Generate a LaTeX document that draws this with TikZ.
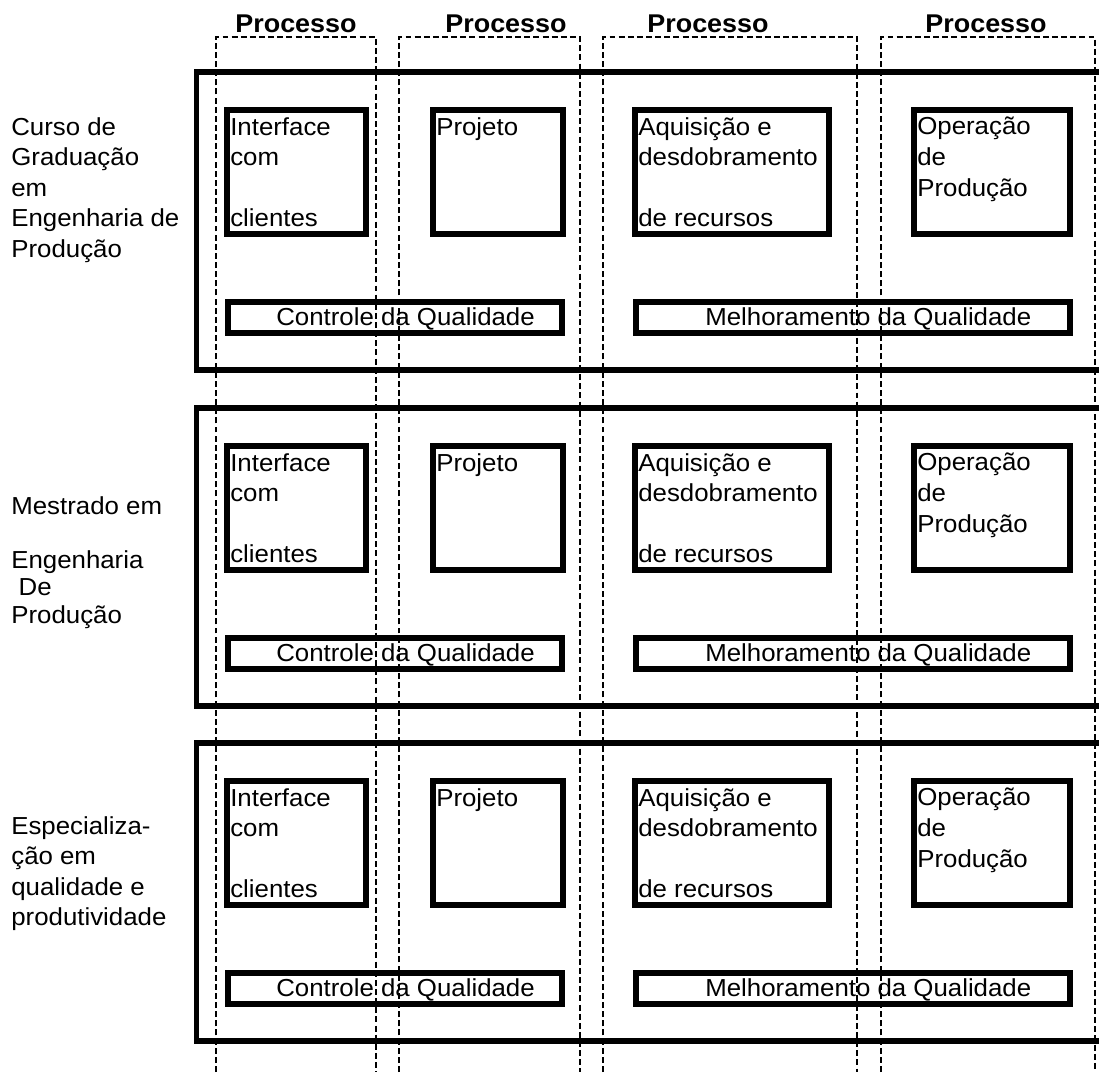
\documentclass[tikz,border=0pt]{standalone}
\usepackage{fontspec}
\setmainfont{Liberation Sans}[FakeStretch=1.05]
\usetikzlibrary{positioning,calc}

\tikzset{
  frame/.style={line width=3.2pt},
  colline/.style={line width=1.5pt, dash pattern=on 3.4pt off 1.8pt},
  procbox/.style={draw, line width=3.2pt, inner sep=0pt},
  boxtext/.style={anchor=north west, inner sep=0pt, align=left, font=\fontsize{14}{17.4}\selectfont},
  linetext/.style={anchor=west, inner sep=0pt, font=\fontsize{14}{17.4}\selectfont},
  head/.style={anchor=base, inner sep=0pt, font=\fontsize{14.6}{16}\selectfont\bfseries},
}

\begin{document}
\begin{tikzpicture}[x=0.02cm, y=-0.02cm]
\useasboundingbox (0,0) rectangle (1099,1072);

% process columns
\foreach \a/\b in {216/376, 399/580, 603/857, 881/1095}
  \draw[colline] (\a,1072) -- (\a,37) -- (\b,37) -- (\b,1072);
\node[head] (proc1) at (296,32) {Processo};
\node[head] (proc2) at (506,32) {Processo};
\node[head] (proc3) at (708,32) {Processo};
\node[head] (proc4) at (986,32) {Processo};

% one frame per course
\foreach \r/\t in {1/0, 2/336, 3/671} {
  \draw[frame] (1099,72+\t) -- (196.5,72+\t) -- (196.5,370+\t) -- (1099,370+\t);
  \node[procbox, minimum width=2.79cm, minimum height=2.49cm] (iface\r) at (296.5,172+\t) {};
  \node[procbox, minimum width=2.61cm, minimum height=2.49cm] (proj\r) at (498,172+\t) {};
  \node[procbox, minimum width=3.89cm, minimum height=2.49cm] (aquis\r) at (732,172+\t) {};
  \node[procbox, minimum width=3.13cm, minimum height=2.49cm] (oper\r) at (992,172+\t) {};
  \node[procbox, minimum width=6.69cm, minimum height=0.63cm] (ctrl\r) at (395,317.5+\t) {};
  \node[procbox, minimum width=8.69cm, minimum height=0.63cm] (melh\r) at (853,317.5+\t) {};
  \node[boxtext] (ifacetxt\r) at ($(iface\r.north west)+(6,10)$) {Interface\\com\\[17.4pt]clientes};
  \node[boxtext] (projtxt\r) at ($(proj\r.north west)+(6,10)$) {Projeto};
  \node[boxtext] (aquistxt\r) at ($(aquis\r.north west)+(6,10)$) {Aquisição e\\desdobramento\\[17.4pt]de recursos};
  \node[boxtext] (opertxt\r) at ($(oper\r.north west)+(6,10)$) {Operação\\de\\Produção};
  \node[linetext] (ctrltxt\r) at ($(ctrl\r.west)+(51,1)$) {Controle da Qualidade};
  \node[linetext] (melhtxt\r) at ($(melh\r.west)+(72,1)$) {Melhoramento da Qualidade};
}

% courses
\node[boxtext] (curso) at (11,117) {Curso de\\Graduação\\em\\Engenharia de\\Produção};
\node[boxtext, font=\fontsize{14}{15.5}\selectfont] (mestr) at (11,496) {Mestrado em\\[15.5pt]Engenharia\\\hspace*{.3em}De\\Produção};
\node[boxtext] (espec) at (11,816) {Especializa-\\ção em\\qualidade e\\produtividade};
\end{tikzpicture}
\end{document}
